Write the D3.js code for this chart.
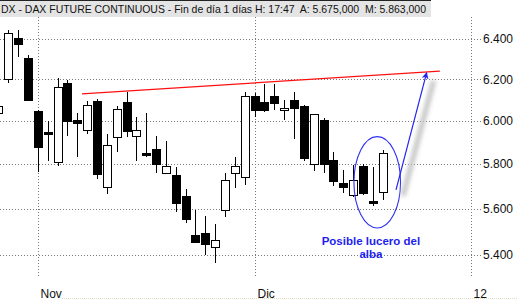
<!DOCTYPE html>
<html>
<head>
<meta charset="utf-8">
<script src="https://cdn.jsdelivr.net/npm/d3@7"></script>
<style>
body { margin: 0; background: #fff; }
svg { display: block; font-family: "Liberation Sans", Arial, sans-serif; }
</style>
</head>
<body>
<script>
// daily candles, DAX future (index 0 is cut at the left edge)
const opens  = [6039,6200,6404,6304,6048,5948,5809,6184,6005,5957,6096,5696,5925,6090,5929,5851,5869,5759,5750,5657,
                5487,5494,5433,5594,5759,5741,6120,6091,6120,6050,6101,6072,5800,6005,5820,5714,5661,5792,5634,5675]
const highs  = [6091,6445,6445,6321,6050,6000,6205,6197,6037,6096,6104,5939,6072,6141,6018,6037,5931,5908,5786,5689,
                5595,5569,5534,5759,5832,6138,6136,6176,6176,6101,6141,6075,6032,6013,5858,5774,5796,5800,5789,5863]
const lows   = [6024,6181,6312,6098,5766,5816,5793,5931,5835,5937,5732,5665,5858,5923,5816,5835,5759,5753,5587,5537,
                5453,5400,5365,5566,5692,5704,6017,6045,6053,6005,5917,5816,5771,5759,5699,5668,5652,5661,5614,5640]
const closes = [6072,6429,6374,6101,5881,5941,6162,6002,5992,6076,5755,5888,6056,5955,5957,5844,5800,5791,5625,5553,
                5455,5446,5464,5728,5791,6120,6050,6050,6088,6061,6064,5829,6032,5800,5722,5695,5729,5672,5627,5850]

const yTicks = [5400, 5600, 5800, 6000, 6200, 6400]
const xTickPos = [4, 26, 48]
const xTickLabels = ['Nov', 'Dic', '12']

const titleText = 'DX - DAX FUTURE CONTINUOUS - Fin de día 1 días H: 17:47  A: 5.675,000  M: 5.863,000'

// annotations, in (candle index, price)
const trendLine = [[8.48, 6130], [44.8, 6240]]
const arrowLine = [[40.35, 5684], [43.46, 6233]]
const ellipseBox = { i0: 36.08, i1: 40.81, lo: 5516, hi: 5927 }
const noteLines = ['Posible lucero del', 'alba']
const notePos = [37.8, 5443]

const width = 518, height = 300
const plotTop = 17, plotBottom = 278

const x = d3.scaleLinear().domain([0, 48]).range([-1.6, 471.4])
const y = d3.scaleLog().domain([5400, 6400]).range([255, 39])

const fmt = d3.formatLocale({ decimal: ',', thousands: '.', grouping: [3], currency: ['', ''] }).format(',d')

let svg = d3.select('body').append('svg')
  .attr('width', width)
  .attr('height', height)

let defs = svg.append('defs')
defs.append('filter').attr('id', 'blur')
  .attr('x', '-50%').attr('y', '-50%').attr('width', '200%').attr('height', '200%')
  .append('feGaussianBlur').attr('stdDeviation', 2.2)
defs.append('marker')
  .attr('id', 'head')
  .attr('viewBox', '0 0 10 10')
  .attr('refX', 9).attr('refY', 5)
  .attr('markerWidth', 7).attr('markerHeight', 7)
  .attr('markerUnits', 'userSpaceOnUse')
  .attr('orient', 'auto')
  .append('path').attr('d', 'M0,0 L10,5 L0,10 L3,5 Z').attr('fill', '#2424f0')

// title bar
svg.append('rect').attr('x', 0).attr('y', 0).attr('width', 431).attr('height', 17).attr('fill', '#e4e4e4')
svg.append('line').attr('x1', 0).attr('x2', 431).attr('y1', 0.5).attr('y2', 0.5)
  .attr('stroke', '#222').attr('shape-rendering', 'crispEdges')
svg.append('text')
  .attr('x', 1).attr('y', 13)
  .attr('font-size', 11)
  .attr('textLength', 425).attr('lengthAdjust', 'spacingAndGlyphs')
  .style('white-space', 'pre')
  .attr('fill', '#111')
  .text(titleText)

// grid
let grid = svg.append('g').attr('stroke', '#7a7a7a').attr('stroke-dasharray', '1,2').attr('shape-rendering', 'crispEdges')
grid.selectAll('.h').data(yTicks).join('line')
  .attr('x1', 0).attr('x2', 481)
  .attr('y1', d => Math.round(y(d)) + 0.5).attr('y2', d => Math.round(y(d)) + 0.5)
grid.selectAll('.v').data(xTickPos).join('line')
  .attr('x1', d => Math.round(x(d)) + 0.5).attr('x2', d => Math.round(x(d)) + 0.5)
  .attr('y1', plotTop).attr('y2', plotBottom)

svg.append('g').selectAll('text').data(yTicks).join('text')
  .attr('x', 483).attr('y', d => y(d)).attr('dy', '0.36em')
  .attr('font-size', 12).attr('fill', '#111')
  .text(d => fmt(d))

svg.append('g').selectAll('text').data(xTickPos).join('text')
  .attr('x', d => Math.round(x(d)) + 2.5).attr('y', 297.5)
  .attr('font-size', 12).attr('fill', '#111')
  .text((d, i) => xTickLabels[i])

// candles
let candles = d3.range(opens.length).map(i => ({ i, o: opens[i], h: highs[i], l: lows[i], c: closes[i] }))
let cg = svg.append('g').attr('shape-rendering', 'crispEdges')
let cd = cg.selectAll('g').data(candles).join('g')
cd.append('line')
  .attr('x1', d => Math.round(x(d.i)) + 0.5).attr('x2', d => Math.round(x(d.i)) + 0.5)
  .attr('y1', d => Math.round(y(d.h))).attr('y2', d => Math.round(y(d.l)))
  .attr('stroke', '#000')
cd.append('rect')
  .attr('x', d => Math.round(x(d.i)) - 3.5)
  .attr('width', 8)
  .attr('y', d => Math.round(y(Math.max(d.o, d.c))) + 0.5)
  .attr('height', d => Math.max(1, Math.round(y(Math.min(d.o, d.c))) - Math.round(y(Math.max(d.o, d.c)))))
  .attr('fill', d => d.c >= d.o ? '#fff' : '#000')
  .attr('stroke', '#000')

// red resistance line
svg.append('line')
  .attr('x1', x(trendLine[0][0])).attr('y1', y(trendLine[0][1]))
  .attr('x2', x(trendLine[1][0])).attr('y2', y(trendLine[1][1]))
  .attr('stroke', '#ff1010').attr('stroke-width', 1.2)

// ellipse round the pattern
let ecx = (x(ellipseBox.i0) + x(ellipseBox.i1)) / 2, ecy = (y(ellipseBox.lo) + y(ellipseBox.hi)) / 2
svg.append('ellipse')
  .attr('cx', ecx).attr('cy', ecy)
  .attr('rx', (x(ellipseBox.i1) - x(ellipseBox.i0)) / 2)
  .attr('ry', (y(ellipseBox.lo) - y(ellipseBox.hi)) / 2)
  .attr('fill', 'none').attr('stroke', '#3030f0').attr('stroke-width', 1.1)

// arrow with its shadow
let ax1 = x(arrowLine[0][0]), ay1 = y(arrowLine[0][1]), ax2 = x(arrowLine[1][0]), ay2 = y(arrowLine[1][1])
svg.append('line')
  .attr('x1', ax1 + 7).attr('y1', ay1 + 6).attr('x2', ax2 + 7).attr('y2', ay2 + 8)
  .attr('stroke', '#c4c4c4').attr('stroke-width', 5).attr('filter', 'url(#blur)')
svg.append('line')
  .attr('x1', ax1).attr('y1', ay1).attr('x2', ax2).attr('y2', ay2)
  .attr('stroke', '#2424f0').attr('stroke-width', 1.2)
  .attr('marker-end', 'url(#head)')

// note
svg.append('g').selectAll('text').data(noteLines).join('text')
  .attr('x', x(notePos[0])).attr('y', (d, i) => y(notePos[1]) + i * 13)
  .attr('text-anchor', 'middle')
  .attr('font-size', 11.5).attr('font-weight', 'bold').attr('fill', '#1e1ef0')
  .text(d => d)

// faint line at the very bottom
svg.append('line').attr('x1', 62).attr('x2', width).attr('y1', 298.5).attr('y2', 298.5)
  .attr('stroke', '#e2dcc0').attr('stroke-dasharray', '1,1')
</script>
</body>
</html>
